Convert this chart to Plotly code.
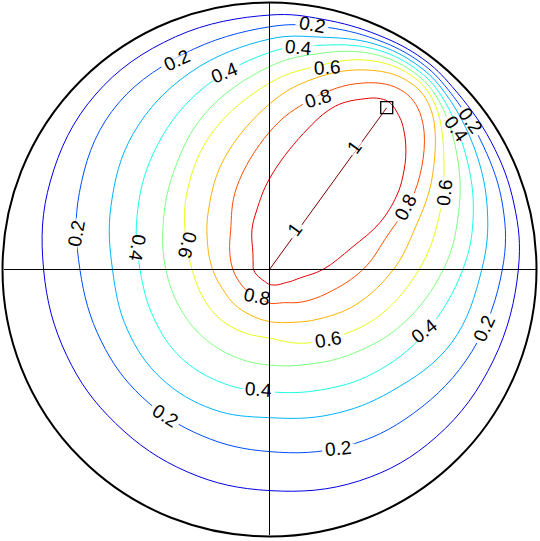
import numpy as np
import plotly.graph_objects as go

# contour levels and their jet colours
LEVELS = [0.1, 0.2, 0.3, 0.4, 0.5, 0.6, 0.7, 0.8, 0.9]
LEVEL_COLORS = ['#0000e6', '#004dff', '#00b3ff', '#1affe6', '#80ff80',
                '#e6ff1a', '#ffb300', '#ff4d00', '#e60000']

ANGLES = [0, 15, 30, 45, 54, 65, 78, 90, 112, 135, 158, 180, 203, 225, 248, 270, 293, 315, 338]
R_01 = [.932, .948, .958, .968, .976, .968, .958, .953, .94, .924, .885, .846, .825, .815, .818, .828, .86, .885, .905]
R_02 = [.872, .905, .925, .949, .960, .950, .93, .909, .868, .836, .768, .71, .685, .675, .672, .682, .72, .762, .818]
R_03 = [.795, .845, .89, .932, .945, .932, .89, .863, .795, .721, .64, .588, .578, .575, .565, .555, .59, .645, .735]
R_04 = [.724, .79, .85, .914, .930, .913, .858, .813, .715, .615, .535, .485, .47, .468, .46, .458, .49, .55, .63]
R_05 = [.651, .73, .815, .896, .915, .893, .825, .76, .635, .51, .43, .388, .365, .355, .352, .358, .385, .444, .54]
R_06 = [.56, .65, .755, .876, .900, .865, .775, .698, .56, .432, .34, .29, .27, .262, .255, .257, .30, .356, .45]
R_07 = [.464, .56, .705, .853, .875, .825, .725, .62, .45, .322, .25, .213, .19, .185, .185, .195, .215, .262, .35]
R_08 = [.35, .45, .64, .805, .833, .768, .637, .515, .33, .206, .16, .137, .122, .115, .11, .126, .135, .172, .235]

ANGLES_09 = [0, 15, 23, 30, 35, 41, 47, 50, 54, 57, 61, 68, 76, 90, 102, 114, 135, 158, 180, 203, 225, 248, 270, 300, 315, 330, 345]
R_09 = [.20, .32, .449, .549, .61, .677, .733, .753, .77, .763, .731, .66, .525, .34, .228, .162, .088, .066, .06, .052, .047, .048, .056, .066, .073, .09, .12]

# level 1 is the segment from the centre to the marked point
SEG_X = [0.0, 0.439]
SEG_Y = [0.0, 0.606]

# inline labels
LABEL_TEXT = ['0.2', '0.4', '0.6', '0.8', '0.2', '0.4', '0.2', '0.4', '0.6', '0.2', '0.4',
              '0.8', '0.6', '0.4', '0.2', '0.2', '0.8', '0.6', '0.2', '0.4', '1', '1']
LABEL_X = [.159, .110, .215, .182, -.348, -.167, -.722, -.494, -.307, -.392, -.040,
           -.047, .22, .582, .258, .804, .508, .657, .752, .702, .32, .0955]
LABEL_Y = [.916, .833, .755, .639, .781, .738, .133, .080, .094, -.548, -.449,
           -.100, -.263, -.230, -.669, -.221, .234, .287, .557, .526, .46, .148]
LABEL_ROT = [10, 5, -3, -17, -25, -22, -80, 100, 105, 32, 4,
             12, -10, -38, -6, -65, -62, -83, 55, 55, -54, -54]

FONT_SIZE = 19
PX_PER_UNIT = 267.0


def ring(angles, radii):
    a = np.radians(angles)
    r = np.asarray(radii, dtype=float)
    k = list(angles).index(225)  # start the closed curve where it is flattest
    a, r = np.roll(a, -k), np.roll(r, -k)
    a, r = np.append(a, a[0]), np.append(r, r[0])
    return r * np.cos(a), r * np.sin(a)


fig = go.Figure()

all_r = [R_01, R_02, R_03, R_04, R_05, R_06, R_07, R_08, R_09]
for i, lev in enumerate(LEVELS):
    ang = ANGLES_09 if lev == 0.9 else ANGLES
    x, y = ring(ang, all_r[i])
    fig.add_trace(go.Scatter(
        x=x, y=y, mode='lines', name=str(lev),
        line=dict(color=LEVEL_COLORS[i], width=1, shape='spline', smoothing=1.1),
        hoverinfo='skip',
    ))

fig.add_trace(go.Scatter(
    x=SEG_X, y=SEG_Y, mode='lines', line=dict(color='#800000', width=1),
    hoverinfo='skip',
))

# white breaks in the lines under each label, like clabel does
gx, gy = [], []
for t, lx, ly, rot in zip(LABEL_TEXT, LABEL_X, LABEL_Y, LABEL_ROT):
    half = (0.56 * FONT_SIZE * len(t.replace('.', '')) + 0.28 * FONT_SIZE * t.count('.') + 6) / 2 / PX_PER_UNIT
    d = np.radians(-rot)
    gx += [lx - half * np.cos(d), lx + half * np.cos(d), None]
    gy += [ly - half * np.sin(d), ly + half * np.sin(d), None]
fig.add_trace(go.Scatter(x=gx, y=gy, mode='lines', line=dict(color='white', width=6),
                         hoverinfo='skip'))

fig.add_trace(go.Scatter(
    x=SEG_X[1:], y=SEG_Y[1:], mode='markers',
    marker=dict(symbol='square-open', size=12, color='black', line=dict(width=1.3)),
    hoverinfo='skip',
))

# unit circle
fig.add_shape(type='circle', x0=-1, y0=-1, x1=1, y1=1,
              line=dict(color='black', width=2))

for t, lx, ly, rot in zip(LABEL_TEXT, LABEL_X, LABEL_Y, LABEL_ROT):
    fig.add_annotation(
        x=lx, y=ly, text=t, showarrow=False, textangle=rot,
        font=dict(family='Liberation Sans, Arial, sans-serif', size=FONT_SIZE, color='black'),
    )

# axes cross
for (x0, y0, x1, y1) in [(0, -1, 0, 1), (-1, 0, 1, 0)]:
    fig.add_annotation(
        x=x1, y=y1, ax=x0, ay=y0, axref='x', ayref='y', text='',
        showarrow=True, arrowhead=0, arrowwidth=1, arrowcolor='black',
        standoff=0, startstandoff=0,
    )

fig.update_layout(
    width=540, height=541,
    margin=dict(l=0, r=0, t=0, b=0),
    paper_bgcolor='white', plot_bgcolor='white',
    showlegend=False,
    xaxis=dict(range=[-1.00936, 1.01311], visible=False, fixedrange=True),
    yaxis=dict(range=[-1.01683, 1.00937], visible=False, fixedrange=True),
)

# the page body has a default margin; drop it so the figure sits at the corner
fig.write_html("out.html", config={'displayModeBar': False},
               post_script="document.body.style.margin='0';")
